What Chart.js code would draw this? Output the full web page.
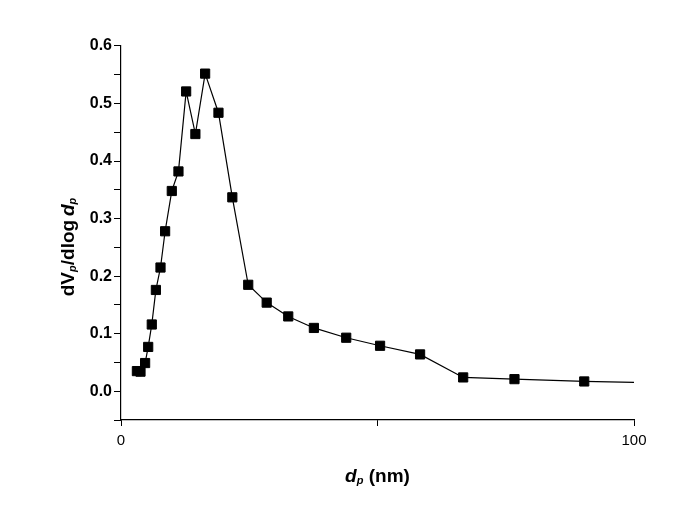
<!DOCTYPE html>
<html>
<head>
<meta charset="utf-8">
<script src="https://cdn.jsdelivr.net/npm/chart.js@4.4.1/dist/chart.umd.min.js"></script>
<style>
  html, body { margin: 0; padding: 0; background: #fff; }
  #wrap { width: 698px; height: 520px; }
</style>
</head>
<body>
<div id="wrap"><canvas id="chartCanvas"></canvas></div>
<script>
    // pore diameter (nm) and dV/dlog d values
    const diameters = [3.1, 3.8, 4.7, 5.3, 6.0, 6.8, 7.7, 8.6, 9.9, 11.2, 12.7, 14.5, 16.4, 19.0,
      21.7, 24.8, 28.4, 32.6, 37.6, 43.9, 50.5, 58.3, 66.7, 76.7, 90.3, 110];
    const dvValues = [0.035, 0.034, 0.049, 0.077, 0.116, 0.176, 0.215, 0.278, 0.348, 0.382, 0.521, 0.447, 0.552, 0.484,
      0.337, 0.185, 0.154, 0.130, 0.110, 0.093, 0.079, 0.064, 0.024, 0.021, 0.017, 0.014];
    const xTickLabels = [0, 100];
    const yTickLabels = [0.0, 0.1, 0.2, 0.3, 0.4, 0.5, 0.6];

    const FONT = '"Liberation Sans", Arial, sans-serif';

    // draws one line of mixed text (italic / subscript pieces), centered on 0,0
    function drawRich(ctx, parts) {
      let total = 0;
      parts.forEach(p => {
        ctx.font = p.font;
        p.w = ctx.measureText(p.text).width;
        total += p.w;
      });
      let x = -total / 2;
      parts.forEach(p => {
        ctx.font = p.font;
        ctx.fillText(p.text, x, p.dy || 0);
        x += p.w;
      });
    }

    const axisTitles = {
      id: 'axisTitles',
      afterDraw(chart) {
        const ctx = chart.ctx;
        const area = chart.chartArea;
        ctx.save();
        ctx.fillStyle = '#000';
        ctx.textBaseline = 'middle';
        ctx.textAlign = 'left';

        // x title: dp (nm)
        ctx.save();
        ctx.translate((area.left + area.right) / 2, 477);
        drawRich(ctx, [
          { text: 'd', font: 'italic bold 19px ' + FONT },
          { text: 'p', font: 'italic bold 11px ' + FONT, dy: 4 },
          { text: ' (nm)', font: 'bold 19px ' + FONT }
        ]);
        ctx.restore();

        // y title: dVp/dlog dp
        ctx.save();
        ctx.translate(69, 247);
        ctx.rotate(-Math.PI / 2);
        drawRich(ctx, [
          { text: 'dV', font: 'bold 19px ' + FONT },
          { text: 'p', font: 'italic bold 11px ' + FONT, dy: 4 },
          { text: '/dlog', font: 'bold 19px ' + FONT },
          { text: '\u2009d', font: 'italic bold 19px ' + FONT },
          { text: 'p', font: 'italic bold 11px ' + FONT, dy: 4 }
        ]);
        ctx.restore();

        ctx.restore();
      }
    };

    const ctx = document.getElementById('chartCanvas').getContext('2d');
    const chart = new Chart(ctx, {
      type: 'line',
      data: {
        datasets: [{
          data: diameters.map((d, i) => ({ x: d, y: dvValues[i] })),
          borderColor: '#000',
          borderWidth: 1.2,
          backgroundColor: '#000',
          pointStyle: 'rect',
          pointRadius: 6.5,
          pointBorderWidth: 1,
          pointBorderColor: '#000',
          pointBackgroundColor: '#000',
          tension: 0,
          fill: false
        }]
      },
      options: {
        responsive: true,
        maintainAspectRatio: false,
        animation: false,
        layout: { padding: { left: 0, right: 64, top: 46, bottom: 0 } },
        plugins: {
          legend: { display: false },
          tooltip: { enabled: false }
        },
        scales: {
          x: {
            type: 'linear',
            min: 0,
            max: 100,
            afterFit(scale) { scale.height = 100; },
            afterBuildTicks(scale) {
              scale.ticks = [0, 50, 100].map(v => ({ value: v }));
            },
            grid: {
              drawOnChartArea: false,
              drawTicks: true,
              tickLength: 6,
              tickColor: '#000',
              tickWidth: 1
            },
            border: { color: '#000', width: 1.2 },
            ticks: {
              color: '#000',
              padding: 6,
              maxRotation: 0,
              font: { family: FONT, size: 15 },
              callback: v => xTickLabels.includes(v) ? String(v) : ''
            }
          },
          y: {
            min: -0.05,
            max: 0.6,
            afterFit(scale) { scale.width = 121; },
            afterBuildTicks(scale) {
              const t = [];
              for (let k = -1; k <= 12; k++) t.push({ value: k * 0.05 });
              scale.ticks = t;
            },
            grid: {
              drawOnChartArea: false,
              drawTicks: true,
              tickLength: 7,
              tickColor: '#000',
              tickWidth: 1
            },
            border: { color: '#000', width: 1.2 },
            ticks: {
              color: '#000',
              padding: 2,
              font: { family: FONT, size: 16, weight: 'bold' },
              callback: function (v) {
                const r = Math.round(v * 100);
                if (r % 10 !== 0 || r < 0) return '';
                const val = r / 100;
                return yTickLabels.includes(val) ? val.toFixed(1) : '';
              }
            }
          }
        }
      },
      plugins: [axisTitles]
    });
</script>
</body>
</html>
